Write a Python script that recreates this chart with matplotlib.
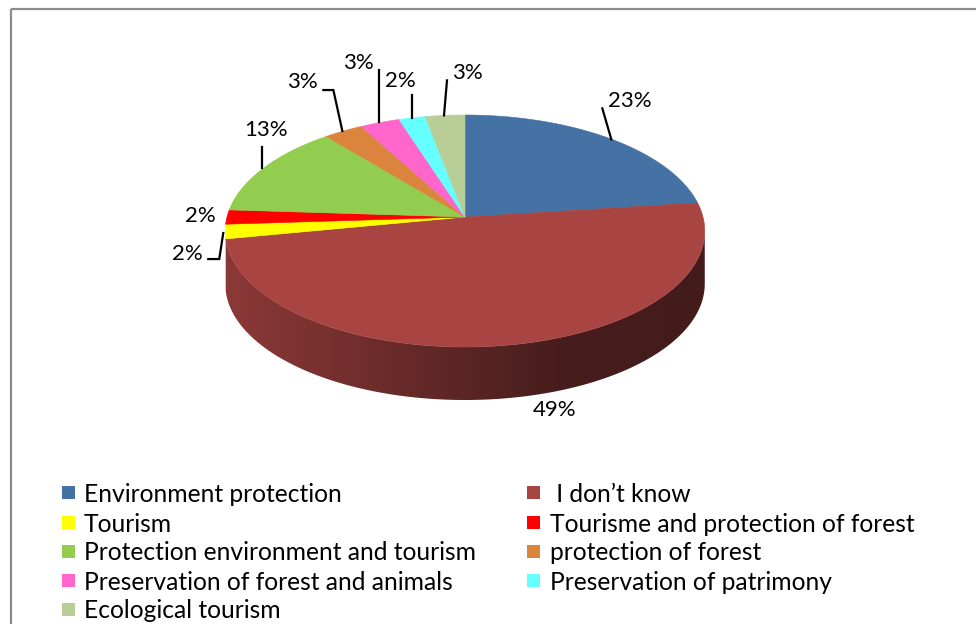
import numpy as np
import matplotlib
matplotlib.use("Agg")
import matplotlib.pyplot as plt
from matplotlib.patches import Polygon, Rectangle

# ---------------- data ----------------
categories = ["Environment protection", " I don\u2019t know", "Tourism",
              "Tourisme and protection of forest", "Protection environment and tourism",
              "protection of forest", "Preservation of forest and animals",
              "Preservation of patrimony", "Ecological tourism"]
values = [23, 49, 2, 2, 13, 3, 3, 2, 3]
colors = ["#4572A5", "#A84543", "#FFFF00", "#FF0000", "#92CD50",
          "#DA843D", "#FF66CC", "#66FFFF", "#B9CD96"]

# ---------------- layout ----------------
W, H = 976, 624
FONT = "Lato"
CX, CY = 465, 231          # geometric centre of projected top ellipse (px)
RX, A, B = 238.0, 116.0, 14.0
K = B / A                   # perspective factor
DEPTH = 53

# label offsets (dx, dy) from mid-angle edge anchor, leader polylines relative to anchor
label_off = [(20.5, -37), (47, 65), (-37.5, 22.5), (-27, -1), (2.5, -38),
             (-41, -49), (-22, -59.6), (-11.5, -37), (22, -42)]
leaders = [[(-7, -30), (2, 1)], None, [(-17, 27.5), (-6, 27.5), (-2, 1.5)], None,
           [(-2, -21), (-2, 0)], [(-20, -41), (-10, -41), (-1, 0)],
           [(-1, -52.6), (-1, -0.6)], [(0, -23), (0, 0)], [(2, -35), (-1, 0)]]


def proj(theta_deg, drop=0.0):
    t = np.radians(theta_deg)
    s, c = np.sin(t), np.cos(t)
    den = 1 + K * c
    return CX + RX * s / den, CY - (A * c + B) / den + drop


fig = plt.figure(figsize=(W / 100, H / 100), dpi=100)
ax = fig.add_axes([0, 0, 1, 1])
ax.set_xlim(0, W)
ax.set_ylim(H, 0)
ax.axis("off")

# outer frame
ax.add_patch(Rectangle((11, 9), 1000, 700, fill=False, edgecolor="#8c8c8c", lw=1.6))

vals = np.array(values, dtype=float)
cum = np.concatenate([[0], np.cumsum(vals)]) / vals.sum() * 360.0
apex = (CX, CY - B)

# side walls (visible front part) with horizontal gradient shading
th1 = np.degrees(np.arccos(-K))
th2 = 360 - th1
xs_left, xs_right = CX - RX * 1.0074, CX + RX * 1.0074
gx = np.linspace(xs_left, xs_right, 600)
u = (gx - xs_left) / (xs_right - xs_left)
fac = np.where(u < 0.7, 0.83 - (0.83 - 0.42) * (u / 0.7), 0.42 - 0.02 * (u - 0.7) / 0.3)
for i, col in enumerate(colors):
    a0, a1 = max(cum[i], th1), min(cum[i + 1], th2)
    if a1 <= a0:
        continue
    ang = np.linspace(a0, a1, max(3, int((a1 - a0) * 2)))
    top = [proj(a) for a in ang]
    bot = [proj(a, DEPTH) for a in ang[::-1]]
    poly = Polygon(top + bot, closed=True, facecolor="none", edgecolor="none")
    ax.add_patch(poly)
    rgb = np.array(matplotlib.colors.to_rgb(col))
    img = (fac[:, None] * rgb[None, :])[None, :, :]
    im = ax.imshow(img, extent=(xs_left, xs_right, 420, 200), aspect="auto",
                   interpolation="bilinear", zorder=2)
    im.set_clip_path(poly)

ax.set_xlim(0, W)
ax.set_ylim(H, 0)

# top face
for i, col in enumerate(colors):
    ang = np.linspace(cum[i], cum[i + 1], max(3, int((cum[i + 1] - cum[i]) * 2)))
    pts = [apex] + [proj(a) for a in ang]
    ax.add_patch(Polygon(pts, closed=True, facecolor=col, edgecolor=col, lw=0.4, zorder=3))

# data labels
for i, v in enumerate(values):
    mid = 0.5 * (cum[i] + cum[i + 1])
    axp, ayp = proj(mid)
    dx, dy = label_off[i]
    ax.text(axp + dx, ayp + dy, f"{v}%", fontsize=16, family=FONT,
            ha="center", va="center", zorder=5)
    if leaders[i] is not None:
        px = [axp + p[0] for p in leaders[i]]
        py = [ayp + p[1] for p in leaders[i]]
        ax.plot(px, py, color="black", lw=1.6, zorder=4, solid_joinstyle="miter")

# legend (row-major, two columns)
row_y = [492, 522, 551, 580, 609]
col_box_x = [62, 527]
col_txt_x = [84, 550]
for i, (cat, col) in enumerate(zip(categories, colors)):
    r, c = divmod(i, 2)
    y = row_y[r]
    ax.add_patch(Rectangle((col_box_x[c], y - 6.5), 13, 13, facecolor=col,
                           edgecolor="none", zorder=3))
    ax.text(col_txt_x[c], y, cat, fontsize=17.7, family=FONT, ha="left",
            va="center_baseline", zorder=3)

fig.savefig("out.png", dpi=100)
